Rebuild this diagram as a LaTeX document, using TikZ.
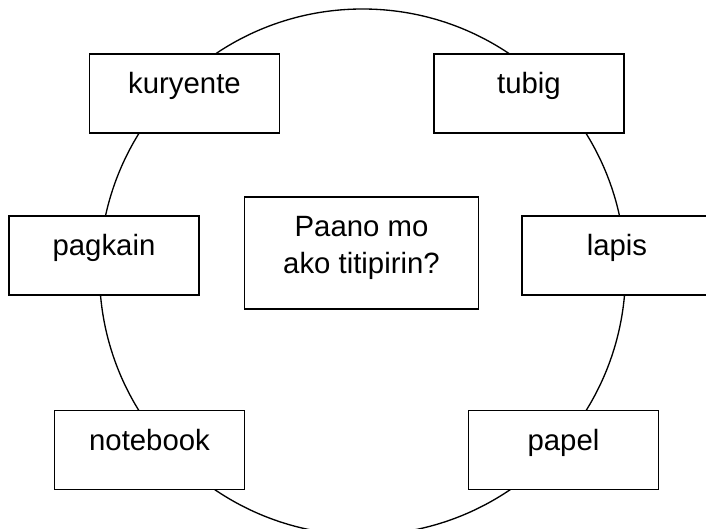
\documentclass[tikz,border=0pt]{standalone}
\usepackage{fontspec}
\setmainfont{Liberation Sans}
\begin{document}
\begin{tikzpicture}[x=0.75pt,y=-0.75pt,
  ring/.style={draw,circle,line width=1pt,minimum size=394.5pt,inner sep=0pt},
  item/.style={draw,line width=1.4pt,fill=white,minimum width=142.5pt,minimum height=59.25pt,
    inner sep=0pt,text height=29.6pt,text depth=29.6pt,font=\fontsize{22}{26}\selectfont},
  hub/.style={draw,line width=1.4pt,fill=white,minimum width=175.5pt,minimum height=84pt,
    inner sep=0pt,align=center,text height=57.4pt,text depth=26.6pt,
    font=\fontsize{22}{27.75}\selectfont}]
  \useasboundingbox (0,0) rectangle (706,528);
  \clip (0,0) rectangle (706,528);
  % the big circle behind the boxes
  \node[ring] (ring) at (362.5,272) {};
  % question in the middle
  \node[hub] (tanong) at (361.5,253) {Paano mo\\ako titipirin?};
  % things around the circle
  \node[item] (kuryente) at (184.5,93.5) {kuryente};
  \node[item] (tubig) at (529,93.5) {tubig};
  \node[item] (pagkain) at (104,255.5) {pagkain};
  \node[item] (lapis) at (617,255.5) {lapis};
  \node[item] (notebook) at (149.5,450) {notebook};
  \node[item] (papel) at (563.5,450) {papel};
\end{tikzpicture}
\end{document}
